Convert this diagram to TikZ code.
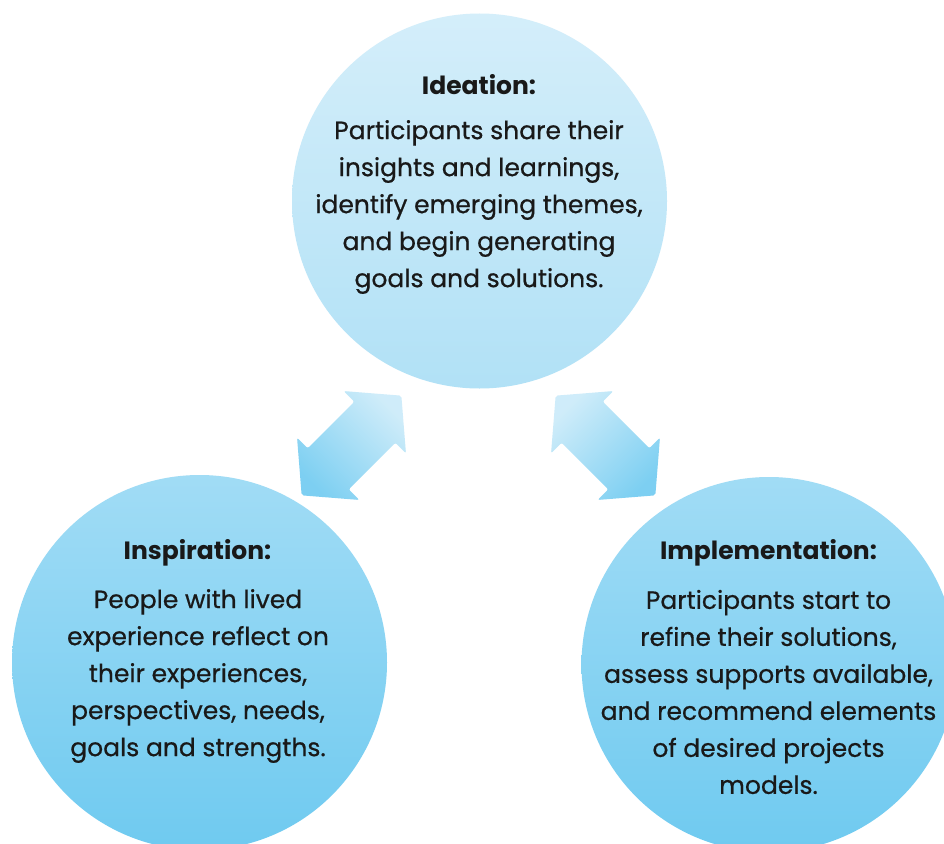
\documentclass[tikz,border=0pt]{standalone}
\usepackage{fontspec}
\setmainfont{Poppins}
\newfontfamily\stagefont{Poppins}[FakeBold=0.6]
\begin{document}
\begin{tikzpicture}[x=1pt,y=-1pt,
  stage/.style={circle,minimum size=375pt,inner sep=0pt,draw=none},
  head/.style={font=\fontsize{25}{30}\selectfont\bfseries,text=black!90},
  body/.style={font=\stagefont\fontsize{25}{37}\selectfont,align=center,text=black!90},
  twoway/.style={rounded corners=2pt,top color=topA!90!lowA,bottom color=lowB!90!white},
]
\definecolor{topA}{HTML}{D4EEFA}
\definecolor{topB}{HTML}{B1E1F6}
\definecolor{lowA}{HTML}{A1DCF5}
\definecolor{lowB}{HTML}{6FCAF0}
\useasboundingbox (0,0) rectangle (944,843);
\clip (0,0) rectangle (944,843);
\fill[white] (0,0) rectangle (944,843);

% the three stages
\node[stage,top color=topA,bottom color=topB] (ideation) at (479.5,201) {};
\node[stage,top color=lowA,bottom color=lowB] (inspiration) at (199.5,662.5) {};
\node[stage,top color=lowA,bottom color=lowB] (implementation) at (769,664.5) {};

% two-way arrows between the stages (axis at 45 degrees)
\coordinate (arrL) at (351.5,445.5);
\coordinate (arrR) at (605.5,445.5);
\shade[twoway,shading angle=-45,shift={(arrL)}]
  (49.85,-49.85) -- (54.45,7.78) -- (43.84,-2.83) -- (-2.83,43.84) -- (7.78,54.45)
  -- (-49.85,49.85) -- (-54.45,-7.78) -- (-43.84,2.83) -- (2.83,-43.84) -- (-7.78,-54.45) -- cycle;
\shade[twoway,shading angle=45,shift={(arrR)}]
  (-49.85,-49.85) -- (-54.45,7.78) -- (-43.84,-2.83) -- (2.83,43.84) -- (-7.78,54.45)
  -- (49.85,49.85) -- (54.45,-7.78) -- (43.84,2.83) -- (-2.83,-43.84) -- (7.78,-54.45) -- cycle;

% texts
\node[head] (ideationH) at (479,85) {Ideation:};
\node[body] (ideationT) at (479,207) {Participants share their\\insights and learnings,\\identify emerging themes,\\and begin generating\\goals and solutions.};

\node[head] (inspirationH) at (197.5,553) {Inspiration:};
\node[body] (inspirationT) at (198,676) {People with lived\\experience reflect on\\their experiences,\\perspectives, needs,\\goals and strengths.};

\node[head] (implementationH) at (768.5,553) {Implementation:};
\node[body] (implementationT) at (768.5,692) {Participants start to\\refine their solutions,\\assess supports available,\\and recommend elements\\of desired projects\\models.};
\end{tikzpicture}
\end{document}
